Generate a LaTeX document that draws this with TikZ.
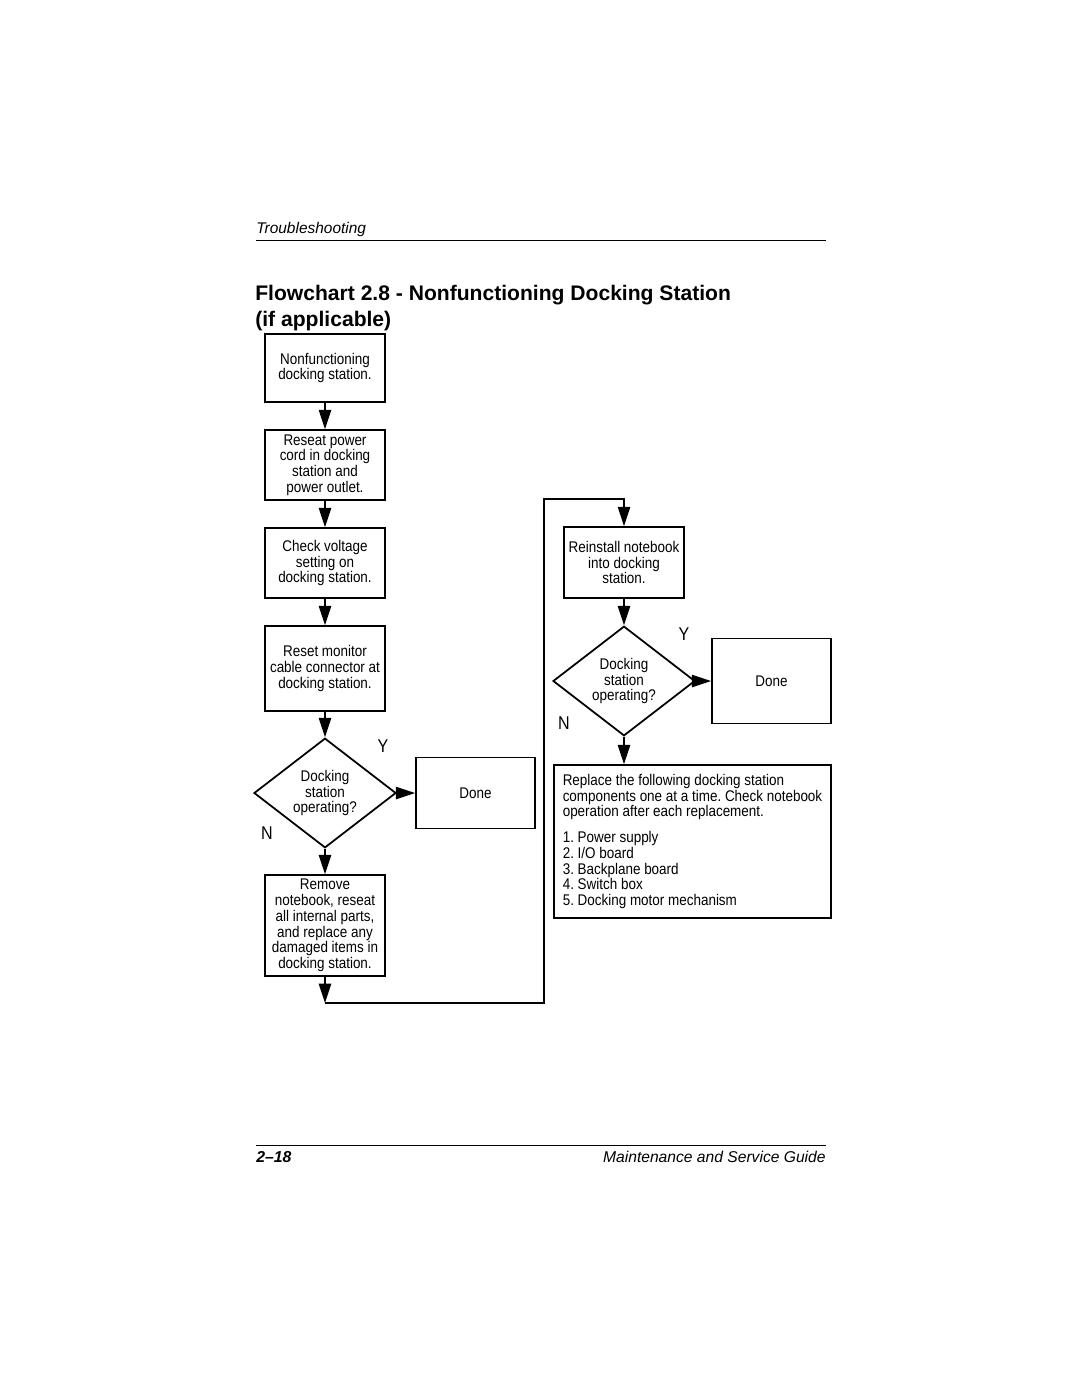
\documentclass[tikz,border=0pt]{standalone}
\usepackage{fontspec}
\setmainfont{Liberation Sans}
\newfontfamily\narrowfont[FakeStretch=0.87]{Liberation Sans}
\usetikzlibrary{shapes.geometric,arrows.meta}
\frenchspacing

\begin{document}
\begin{tikzpicture}[x=0.02cm, y=-0.02cm,
  box/.style={draw, line width=1pt, align=center, inner sep=1pt, minimum width=2.4cm,
    font=\narrowfont\fontsize{8.8}{9}\selectfont},
  decision/.style={draw, diamond, line width=1pt, align=center, inner sep=0pt,
    minimum width=2.84cm, minimum height=2.16cm, font=\narrowfont\fontsize{8.8}{9}\selectfont},
  flow/.style={line width=1pt, -{Triangle[length=11pt,width=7pt]}},
  yn/.style={font=\narrowfont\fontsize{10.5}{12}\selectfont}]
  \useasboundingbox[fill=white] (0,0) rectangle (1080,1397);

  % Kopf und Titel
  \node[anchor=base west, inner sep=0pt, font=\fontsize{8.8}{10}\selectfont\itshape] (head) at (256,233) {Troubleshooting};
  \draw[line width=0.5pt] (256,240) -- (826,240);
  \node[anchor=base west, inner sep=0pt, align=left, font=\fontsize{12}{14.7}\selectfont\bfseries] (title) at (255,326)
    {Flowchart 2.8 - Nonfunctioning Docking Station\\(if applicable)};

  % linke Spalte
  \node[box, minimum height=1.36cm] (start) at (325,368) {Nonfunctioning\\docking station.};
  \node[box, minimum height=1.4cm] (reseat) at (325,465) {Reseat power\\cord in docking\\station and\\power outlet.};
  \node[box, minimum height=1.4cm] (voltage) at (325,563) {Check voltage\\setting on\\docking station.};
  \node[box, minimum height=1.7cm] (monitor) at (325,668.5) {Reset monitor\\cable connector at\\docking station.};
  \node[decision] (check1) at (325,793) {Docking\\station\\operating?};
  \node[box, minimum width=2.38cm, minimum height=1.42cm] (done1) at (475.5,793) {Done};
  \node[box, minimum height=2.02cm] (remove) at (325,925.5)
    {Remove\\notebook, reseat\\all internal parts,\\and replace any\\damaged items in\\docking station.};
  \node[yn] (y1) at (383,746) {Y};
  \node[yn] (n1) at (267,833) {N};

  % rechte Spalte
  \node[box, minimum height=1.42cm] (reinstall) at (624,562.5) {Reinstall notebook\\into docking\\station.};
  \node[decision] (check2) at (624,681) {Docking\\station\\operating?};
  \node[box, minimum width=2.38cm, minimum height=1.7cm] (done2) at (771.5,681) {Done};
  \node[box, align=left, minimum width=5.54cm, minimum height=3.06cm] (replace) at (692.5,841.5)
    {Replace the following docking station\\components one at a time. Check notebook\\operation after each replacement.\\[5.5pt]
     1. Power supply\\2. I/O board\\3. Backplane board\\4. Switch box\\5. Docking motor mechanism};
  \node[yn] (y2) at (684,634) {Y};
  \node[yn] (n2) at (564,723) {N};

  % Pfeile
  \draw[flow] (start) -- (reseat);
  \draw[flow] (reseat) -- (voltage);
  \draw[flow] (voltage) -- (monitor);
  \draw[flow] (monitor) -- (check1);
  \draw[flow] (check1) -- (done1);
  \draw[flow] (check1) -- (remove);
  \coordinate (loopA) at (325,1003);
  \coordinate (loopB) at (544,499);
  \draw[flow] (remove) -- (loopA);
  \draw[flow] (loopA) -| (loopB) -| (reinstall);
  \draw[flow] (reinstall) -- (check2);
  \draw[flow] (check2) -- (done2);
  \draw[flow] (check2) -- (check2 |- replace.north);

  % Fuss
  \draw[line width=0.5pt] (256,1145) -- (826,1145);
  \node[anchor=base west, inner sep=0pt, font=\fontsize{9}{10}\selectfont\bfseries\itshape] (page) at (256,1162) {2--18};
  \node[anchor=base east, inner sep=0pt, font=\fontsize{8.9}{10}\selectfont\itshape] (guide) at (826,1162) {Maintenance and Service Guide};
\end{tikzpicture}
\end{document}
